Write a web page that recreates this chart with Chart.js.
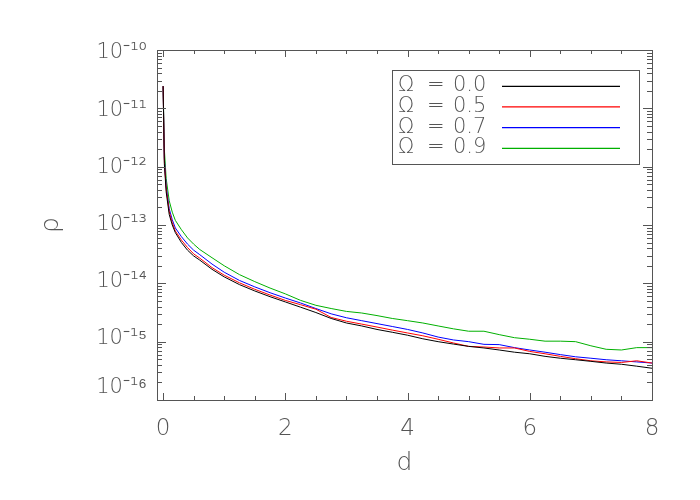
<!DOCTYPE html>
<html><head><meta charset="utf-8">
<script src="https://cdn.jsdelivr.net/npm/chart.js@4.4.0/dist/chart.umd.min.js"></script>
<style>html,body{margin:0;padding:0;background:#fff;}</style>
</head><body>
<canvas id="c" width="700" height="500"></canvas>
<script>
// ---- data ----
const dValues = [0,0.02,0.05,0.1,0.15,0.2,0.3,0.4,0.5,0.6,0.8,1.0,1.25,1.5,1.75,2.0,2.25,2.5,2.75,3.0,3.25,3.5,3.75,4.0,4.25,4.5,4.75,5.0,5.25,5.5,5.75,6.0,6.25,6.5,6.75,7.0,7.25,7.5,7.75,8.0];
const rhoOmega00 = [2.4e-11,1.12e-12,3.7e-13,1.51e-13,1.0e-13,7.4e-14,5.0e-14,3.7e-14,2.95e-14,2.5e-14,1.74e-14,1.29e-14,9.5e-15,7.4e-15,5.9e-15,4.8e-15,3.9e-15,3.16e-15,2.5e-15,2.09e-15,1.86e-15,1.62e-15,1.45e-15,1.29e-15,1.12e-15,1.0e-15,9.1e-16,8.3e-16,7.8e-16,7.2e-16,6.6e-16,6.2e-16,5.6e-16,5.2e-16,4.9e-16,4.6e-16,4.3e-16,4.1e-16,3.8e-16,3.5e-16];
const rhoOmega05 = [2.4e-11,1.26e-12,4.2e-13,1.7e-13,1.1e-13,7.9e-14,5.5e-14,4.1e-14,3.2e-14,2.7e-14,1.86e-14,1.38e-14,1.02e-14,7.9e-15,6.3e-15,5.1e-15,4.3e-15,3.6e-15,2.6e-15,2.24e-15,2.0e-15,1.78e-15,1.58e-15,1.41e-15,1.26e-15,1.1e-15,9.5e-16,8.3e-16,8.1e-16,7.8e-16,7.8e-16,6.8e-16,6.2e-16,5.6e-16,5.1e-16,4.7e-16,4.5e-16,4.4e-16,4.7e-16,4.3e-16];
const rhoOmega07 = [2.4e-11,1.41e-12,4.7e-13,1.9e-13,1.23e-13,8.9e-14,6.3e-14,4.7e-14,3.7e-14,3.1e-14,2.14e-14,1.55e-14,1.12e-14,8.7e-15,6.9e-15,5.6e-15,4.6e-15,3.7e-15,3.0e-15,2.57e-15,2.29e-15,2.04e-15,1.82e-15,1.62e-15,1.41e-15,1.2e-15,1.07e-15,1.0e-15,9.0e-16,8.9e-16,7.9e-16,7.2e-16,6.6e-16,6.0e-16,5.5e-16,5.2e-16,4.9e-16,4.7e-16,4.5e-16,4.3e-16];
const rhoOmega09 = [2.4e-11,2.0e-12,6.3e-13,2.6e-13,1.66e-13,1.2e-13,8.3e-14,6.0e-14,4.7e-14,3.8e-14,2.75e-14,2.0e-14,1.41e-14,1.07e-14,8.3e-15,6.6e-15,5.1e-15,4.2e-15,3.7e-15,3.3e-15,3.1e-15,2.8e-15,2.5e-15,2.29e-15,2.09e-15,1.86e-15,1.66e-15,1.51e-15,1.51e-15,1.32e-15,1.17e-15,1.1e-15,1.02e-15,1.02e-15,1.0e-15,8.5e-16,7.4e-16,7.2e-16,7.9e-16,7.9e-16];
const seriesLabels = ['Ω = 0.0','Ω = 0.5','Ω = 0.7','Ω = 0.9'];
const seriesData = [rhoOmega00, rhoOmega05, rhoOmega07, rhoOmega09];
const seriesColors = ['#000000','#ff0000','#0000ff','#00b000'];
const xTickValues = [0,2,4,6,8];
const yTickValues = [1e-16,1e-15,1e-14,1e-13,1e-12,1e-11,1e-10];
const xTitle = 'd';
const yTitle = 'ρ';

// ---- styling ----
const FAM = "'DejaVu Sans', sans-serif";
const TXT = '#555555';
const AX = '#555555';

const sup = {'-':'⁻','0':'⁰','1':'¹','2':'²','3':'³','4':'⁴','5':'⁵','6':'⁶','7':'⁷','8':'⁸','9':'⁹'};
function powLabel(v){
  const e = Math.round(Math.log10(v));
  return '10' + String(e).split('').map(c=>sup[c]||c).join('');
}

const boxPlugin = {
  id: 'boxPlugin',
  beforeDraw(chart){
    // IDL-like label placement for the y axis (bottom label lifted above the x axis)
    const ys = chart.scales.y, ca = chart.chartArea;
    const items = ys.getLabelItems(ca);
    items.forEach((it, i) => {
      const t = ys.ticks[i];
      if (!t) return;
      const k = -10 - Math.round(Math.log10(t.value));
      const py = ys.getPixelForValue(t.value);
      it.options.translation[1] = (k === 6) ? py - 12 : py + 3 - k * 1.2;
    });
  },
  afterDraw(chart){
    const ctx = chart.ctx, ca = chart.chartArea;
    const xs = chart.scales.x, ys = chart.scales.y;
    ctx.save();
    ctx.strokeStyle = AX; ctx.lineWidth = 1;
    ctx.strokeRect(Math.round(ca.left)+0.5, Math.round(ca.top)+0.5, Math.round(ca.right-ca.left), Math.round(ca.bottom-ca.top));
    ctx.beginPath();
    for (let v = 0; v <= 8.0001; v += 0.5) {
      const px = Math.round(xs.getPixelForValue(v)) + 0.5;
      const len = (Math.abs(v % 2) < 1e-6) ? 7 : 4;
      ctx.moveTo(px, ca.bottom); ctx.lineTo(px, ca.bottom - len);
      ctx.moveTo(px, ca.top); ctx.lineTo(px, ca.top + len);
    }
    for (let e = -16; e <= -10; e++) {
      for (let m = 1; m <= 9; m++) {
        const v = m * Math.pow(10, e);
        if (v > 1.0001e-10) continue;
        const py = Math.round(ys.getPixelForValue(v)) + 0.5;
        const len = m === 1 ? 9 : 5;
        ctx.moveTo(ca.left, py); ctx.lineTo(ca.left + len, py);
        ctx.moveTo(ca.right, py); ctx.lineTo(ca.right - len, py);
      }
    }
    ctx.stroke();

    // legend box
    const bx = ca.right - 260, by = ca.top + 20, bw = 247, bh = 94;
    ctx.strokeStyle = AX;
    ctx.strokeRect(Math.round(bx)+0.5, Math.round(by)+0.5, bw, bh);
    ctx.font = "200 21px " + FAM;
    ctx.textBaseline = 'middle';
    ctx.textAlign = 'left';
    chart.data.datasets.forEach((ds, i) => {
      const y = by + 16 + i * 20.67;
      const parts = ds.label.split(' ');
      const px = [bx + 6, bx + 35, bx + 61];
      ctx.fillStyle = TXT;
      parts.forEach((p, j) => ctx.fillText(p, px[Math.min(j, 2)], y));
      ctx.beginPath();
      ctx.strokeStyle = seriesColors[i];
      ctx.lineWidth = 1.2;
      ctx.moveTo(bx + 110, y + 0.3);
      ctx.lineTo(bx + 228, y + 0.3);
      ctx.stroke();
    });
    ctx.restore();
  }
};

new Chart(document.getElementById('c'), {
  type: 'line',
  data: {
    datasets: seriesData.map((arr, i) => ({
      label: seriesLabels[i],
      data: dValues.map((d, j) => ({x: d, y: arr[j]})),
      borderColor: seriesColors[i],
      backgroundColor: seriesColors[i],
      borderWidth: 1,
      pointRadius: 0,
      tension: 0,
      fill: false
    }))
  },
  options: {
    responsive: false,
    animation: false,
    devicePixelRatio: 1,
    layout: {padding: {left: 0, right: 48, top: 50, bottom: 0}},
    plugins: {legend: {display: false}, tooltip: {enabled: false}},
    scales: {
      x: {
        type: 'linear', min: -0.1, max: 8,
        grid: {display: false, drawTicks: false},
        border: {display: false},
        afterBuildTicks: s => { s.ticks = xTickValues.map(v => ({value: v})); },
        afterFit: s => { s.height = 100; },
        ticks: {font: {family: FAM, size: 23, weight: '200'}, color: TXT, padding: 15, maxRotation: 0, autoSkip: false},
        title: {display: true, text: xTitle, font: {family: FAM, size: 25, weight: '200'}, color: TXT, padding: {top: 0, bottom: 22}}
      },
      y: {
        type: 'logarithmic', min: 1e-16, max: 1e-10,
        grid: {display: false, drawTicks: false},
        border: {display: false},
        afterBuildTicks: s => { s.ticks = yTickValues.map(v => ({value: v})); },
        afterFit: s => { s.width = 157; },
        ticks: {callback: v => powLabel(v), font: {family: FAM, size: 21, weight: '200'}, color: TXT, padding: 10, autoSkip: false},
        title: {display: true, text: yTitle, font: {family: FAM, size: 25, weight: '200'}, color: TXT, padding: {top: 36, bottom: 0}}
      }
    }
  },
  plugins: [boxPlugin]
});
</script>
</body></html>
